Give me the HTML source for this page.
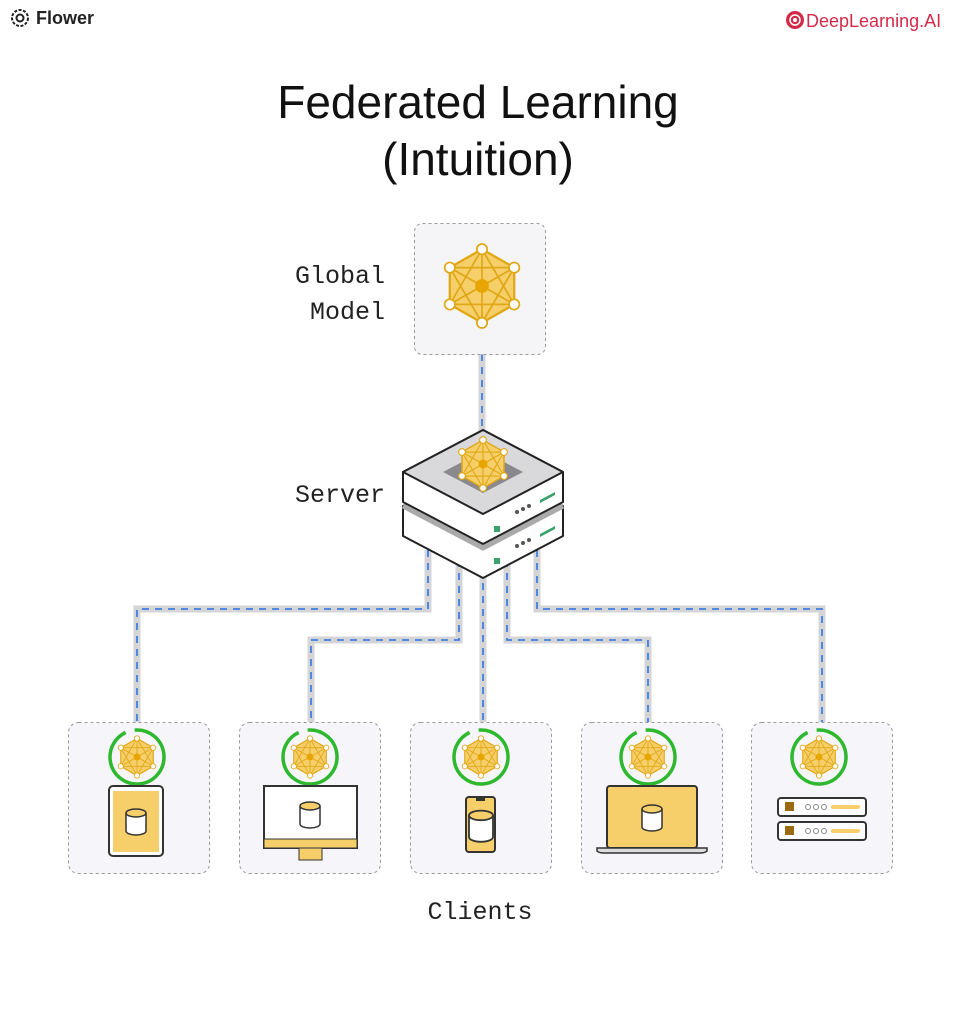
<!DOCTYPE html>
<html><head><meta charset="utf-8"><style>
body{margin:0;background:#fff;width:953px;height:1016px;overflow:hidden;font-family:"Liberation Sans",sans-serif}
</style></head><body>
<svg width="953" height="1016" viewBox="0 0 953 1016" xmlns="http://www.w3.org/2000/svg">
<defs>
<g id="net">
 <polygon points="0,-32 28,-16 28,16 0,32 -28,16 -28,-16" fill="#f6cf6a" stroke="#e0a816" stroke-width="2"/>
 <g stroke="#e0a816" stroke-width="1.5" fill="none">
  <line x1="0" y1="-32" x2="0" y2="32"/><line x1="-28" y1="-16" x2="28" y2="16"/><line x1="28" y1="-16" x2="-28" y2="16"/>
  <line x1="0" y1="-32" x2="28" y2="16"/><line x1="0" y1="-32" x2="-28" y2="16"/><line x1="0" y1="32" x2="28" y2="-16"/><line x1="0" y1="32" x2="-28" y2="-16"/>
  <line x1="-28" y1="-16" x2="28" y2="-16"/><line x1="-28" y1="16" x2="28" y2="16"/>
 </g>
 <circle r="6" fill="#e8a500"/>
 <g fill="#fff" stroke="#e0a816" stroke-width="1.5">
  <circle cx="0" cy="-32" r="4.5"/><circle cx="28" cy="-16" r="4.5"/><circle cx="28" cy="16" r="4.5"/><circle cx="0" cy="32" r="4.5"/><circle cx="-28" cy="16" r="4.5"/><circle cx="-28" cy="-16" r="4.5"/>
 </g>
</g>
<g id="cli">
 <circle r="27" fill="none" stroke="#2eb82e" stroke-width="3.5" stroke-dasharray="160 10" transform="rotate(-95)"/>
 <use href="#net" transform="scale(0.58)"/>
</g>
<g id="cyl">
 <path d="M-10,-8 v18 a10,4 0 0 0 20,0 v-18" fill="#fff" stroke="#333" stroke-width="1.5"/>
 <ellipse cx="0" cy="-8" rx="10" ry="4" fill="#f6cf6a" stroke="#333" stroke-width="1.5"/>
</g>
</defs>

<!-- header -->
<g transform="translate(20,18)"><circle r="8" fill="none" stroke="#222" stroke-width="2" stroke-dasharray="3 1.5"/><circle r="3.5" fill="none" stroke="#222" stroke-width="2"/></g>
<text x="36" y="24" font-size="18" font-weight="bold" fill="#222">Flower</text>
<g transform="translate(795,20)"><circle r="9" fill="#d42a4a"/><circle r="5" fill="none" stroke="#fff" stroke-width="1.5"/><circle r="2" fill="#fff"/></g>
<text x="806" y="27" font-size="18" fill="#d42a4a">DeepLearning.AI</text>

<text x="478" y="118" font-size="46" text-anchor="middle" fill="#111">Federated Learning</text>
<text x="478" y="175" font-size="46" text-anchor="middle" fill="#111">(Intuition)</text>

<!-- connectors -->
<g fill="none" stroke-linejoin="miter">
 <g stroke="#d5d5d8" stroke-width="7">
  <path d="M482,354 V440"/>
  <path d="M428,550 V609 H137 V722"/>
  <path d="M459,560 V640 H311 V722"/>
  <path d="M483,570 V722"/>
  <path d="M507,560 V640 H648 V722"/>
  <path d="M537,550 V609 H822 V722"/>
 </g>
 <g stroke="#3f7fe0" stroke-width="1.8" stroke-dasharray="7 6">
  <path d="M482,354 V440"/>
  <path d="M428,550 V609 H137 V722"/>
  <path d="M459,560 V640 H311 V722"/>
  <path d="M483,570 V722"/>
  <path d="M507,560 V640 H648 V722"/>
  <path d="M537,550 V609 H822 V722"/>
 </g>
</g>

<!-- global model -->
<rect x="414.5" y="223.5" width="131" height="131" rx="8" fill="#f5f5f8" stroke="#999" stroke-dasharray="3 3"/>
<use href="#net" transform="translate(482,286) scale(1.15)"/>
<g font-family="Liberation Mono,monospace" font-size="25" fill="#222" text-anchor="end">
<text x="385" y="283">Global</text><text x="385" y="319">Model</text>
<text x="385" y="502">Server</text>
</g>

<!-- server -->
<g stroke="#222" stroke-width="2" stroke-linejoin="round">
 <path d="M403,506 L483,464 L563,506 V536 L483,578 L403,536 Z" fill="#fff"/>
 <path d="M403,506 L483,548 L563,506" fill="none" stroke="#aaa" stroke-width="5"/>
 <path d="M403,472 L483,430 L563,472 V502 L483,544 L403,502 Z" fill="#fff"/>
 <path d="M403,472 L483,430 L563,472 L483,514 Z" fill="#d9d9dc"/>
</g>
<path d="M443,472 L483,451 L523,472 L483,493 Z" fill="#8a8a8e"/>
<use href="#net" transform="translate(483,464) scale(0.75)"/>
<g fill="#3aa36b"><path d="M540,500 L555,492 V495 L540,503Z"/><rect x="494" y="526" width="6" height="6"/><path d="M540,534 L555,526 V529 L540,537Z"/><rect x="494" y="558" width="6" height="6"/></g>
<g fill="#555"><circle cx="517" cy="512" r="2"/><circle cx="523" cy="509" r="2"/><circle cx="529" cy="506" r="2"/><circle cx="517" cy="546" r="2"/><circle cx="523" cy="543" r="2"/><circle cx="529" cy="540" r="2"/></g>

<!-- client boxes -->
<g fill="#f5f5fa" stroke="#999" stroke-dasharray="3 3">
 <rect x="68.5" y="722.5" width="141" height="151" rx="10"/>
 <rect x="239.5" y="722.5" width="141" height="151" rx="10"/>
 <rect x="410.5" y="722.5" width="141" height="151" rx="10"/>
 <rect x="581.5" y="722.5" width="141" height="151" rx="10"/>
 <rect x="751.5" y="722.5" width="141" height="151" rx="10"/>
</g>
<use href="#cli" transform="translate(137,757)"/>
<use href="#cli" transform="translate(310,757)"/>
<use href="#cli" transform="translate(481,757)"/>
<use href="#cli" transform="translate(648,757)"/>
<use href="#cli" transform="translate(819,757)"/>

<!-- tablet -->
<rect x="109" y="786" width="54" height="70" rx="4" fill="#fff" stroke="#333" stroke-width="2"/>
<rect x="113" y="791" width="46" height="61" fill="#f6cf6a"/>
<use href="#cyl" transform="translate(136,821)"/>
<!-- monitor -->
<rect x="264" y="786" width="93" height="62" fill="#fff" stroke="#333" stroke-width="2"/>
<rect x="264" y="839" width="93" height="9" fill="#f6cf6a" stroke="#333" stroke-width="1"/>
<rect x="299" y="848" width="23" height="12" fill="#f6cf6a" stroke="#333" stroke-width="1"/>
<use href="#cyl" transform="translate(310,814)"/>
<!-- phone -->
<rect x="466" y="797" width="29" height="55" rx="3" fill="#f6cf6a" stroke="#333" stroke-width="2"/>
<rect x="476" y="798" width="9" height="3" fill="#333"/>
<use href="#cyl" transform="translate(481,825) scale(1.2)"/>
<!-- laptop -->
<rect x="607" y="786" width="90" height="62" rx="3" fill="#f6cf6a" stroke="#333" stroke-width="2"/>
<path d="M597,848 H707 V851 Q705,853 700,853 H604 Q599,853 597,851 Z" fill="#ddd" stroke="#333" stroke-width="1.5"/>
<use href="#cyl" transform="translate(652,817)"/>
<!-- rack -->
<g stroke="#333" stroke-width="2" fill="#fff">
 <rect x="778" y="798" width="88" height="18" rx="3"/><rect x="778" y="822" width="88" height="18" rx="3"/>
</g>
<g fill="#9a6b10"><rect x="785" y="802" width="9" height="9"/><rect x="785" y="826" width="9" height="9"/></g>
<g fill="none" stroke="#888"><circle cx="808" cy="807" r="2.5"/><circle cx="816" cy="807" r="2.5"/><circle cx="824" cy="807" r="2.5"/><circle cx="808" cy="831" r="2.5"/><circle cx="816" cy="831" r="2.5"/><circle cx="824" cy="831" r="2.5"/></g>
<g fill="#f6cf6a"><rect x="831" y="805" width="29" height="4" rx="2"/><rect x="831" y="829" width="29" height="4" rx="2"/></g>

<text x="480" y="919" font-family="Liberation Mono,monospace" font-size="25" text-anchor="middle" fill="#222">Clients</text>
</svg>
</body></html>
